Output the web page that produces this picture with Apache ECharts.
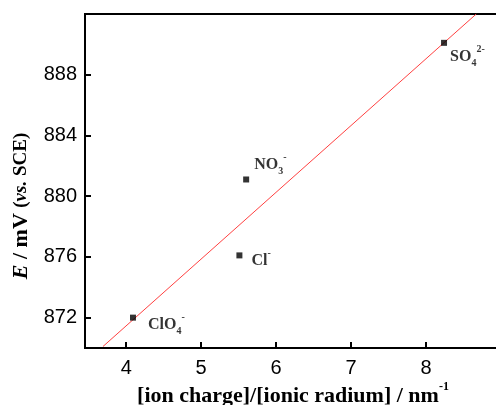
<!DOCTYPE html>
<html>
<head>
<meta charset="utf-8">
<script src="https://cdn.jsdelivr.net/npm/echarts@6/dist/echarts.min.js"></script>
<style>html,body{margin:0;padding:0;background:#fff;overflow:hidden}#c{width:496px;height:405px}</style>
</head>
<body>
<div id="c"></div>
<script>
// Data
const pointX = [4.09, 5.51, 5.60, 8.24];
const pointY = [872.0, 876.1, 881.1, 890.1];
const pointLabels = ['{b|ClO}{s|4}{p|-}', '{b|Cl}{p|-}', '{b|NO}{s|3}{p|-}', '{b|SO}{s|4}{p|2-}'];
const fitX = [3.69, 8.67];
const fitY = [870.1, 892.0];
const xTicks = [4, 5, 6, 7, 8];
const yTicks = [872, 876, 880, 884, 888];

const labelOffsets = [[7, 7], [4, 5], [0, -15], [-2, 14]];
const rich = {
  b: {fontFamily: 'Liberation Serif', fontWeight: 'bold', fontSize: 16, color: '#000', lineHeight: 24, verticalAlign: 'middle'},
  s: {fontFamily: 'Liberation Serif', fontWeight: 'bold', fontSize: 10, color: '#000', lineHeight: 24, verticalAlign: 'bottom'},
  p: {fontFamily: 'Liberation Serif', fontWeight: 'bold', fontSize: 10, color: '#000', lineHeight: 24, verticalAlign: 'top'}
};

const chart = echarts.init(document.getElementById('c'));
chart.setOption({
  animation: false,
  grid: {left: 85, right: -5, top: 14, bottom: 57, show: true, borderColor: '#000', borderWidth: 2, outerBoundsMode: 'none', containLabel: false},
  xAxis: {
    type: 'value', min: 3.45, max: 9,
    name: '{a|[ion charge]/[ionic radium] / nm}{p|-1}',
    nameLocation: 'middle', nameGap: 33, nameMoveOverlap: false,
    nameTextStyle: {rich: {
      a: {fontFamily: 'Liberation Serif', fontWeight: 'bold', fontSize: 22, color: '#000', lineHeight: 26, verticalAlign: 'bottom'},
      p: {fontFamily: 'Liberation Serif', fontWeight: 'bold', fontSize: 12, color: '#000', lineHeight: 26, verticalAlign: 'top'}
    }},
    axisLine: {show: true, onZero: false, lineStyle: {color: '#000', width: 2}},
    axisTick: {show: true, inside: true, length: 6, customValues: xTicks, lineStyle: {color: '#000', width: 2}},
    axisLabel: {customValues: xTicks, fontFamily: 'Liberation Sans', fontSize: 20, color: '#000', margin: 10, formatter: v => String(v)},
    splitLine: {show: false}
  },
  yAxis: {
    type: 'value', min: 870, max: 892,
    name: '{i|E}{a| / mV }{c|(}{ci|vs.}{c| SCE)}',
    nameLocation: 'middle', nameGap: 53, nameRotate: 90, nameMoveOverlap: false,
    nameTextStyle: {padding: [0, 50, 0, 0], rich: {
      i: {fontFamily: 'Liberation Serif', fontWeight: 'bold', fontStyle: 'italic', fontSize: 22, color: '#000'},
      a: {fontFamily: 'Liberation Serif', fontWeight: 'bold', fontSize: 22, color: '#000'},
      c: {fontFamily: 'Liberation Serif', fontWeight: 'bold', fontSize: 19, color: '#000'},
      ci: {fontFamily: 'Liberation Serif', fontWeight: 'bold', fontStyle: 'italic', fontSize: 19, color: '#000'}
    }},
    axisLine: {show: true, onZero: false, lineStyle: {color: '#000', width: 2}},
    axisTick: {show: true, inside: true, length: 6, customValues: yTicks, lineStyle: {color: '#000', width: 2}},
    axisLabel: {customValues: yTicks, fontFamily: 'Liberation Sans', fontSize: 20, color: '#000', margin: 8},
    splitLine: {show: false}
  },
  series: [
    {
      type: 'line', data: fitX.map((x, i) => [x, fitY[i]]), symbol: 'none',
      lineStyle: {color: '#ff4040', width: 1}, silent: true, z: 1
    },
    {
      type: 'scatter', symbol: 'rect', symbolSize: 6,
      itemStyle: {color: '#000'}, z: 3,
      data: pointX.map((x, i) => ({
        value: [x, pointY[i]],
        label: {show: true, position: 'right', offset: labelOffsets[i], formatter: pointLabels[i], rich: rich}
      }))
    }
  ]
});
</script>
</body>
</html>
